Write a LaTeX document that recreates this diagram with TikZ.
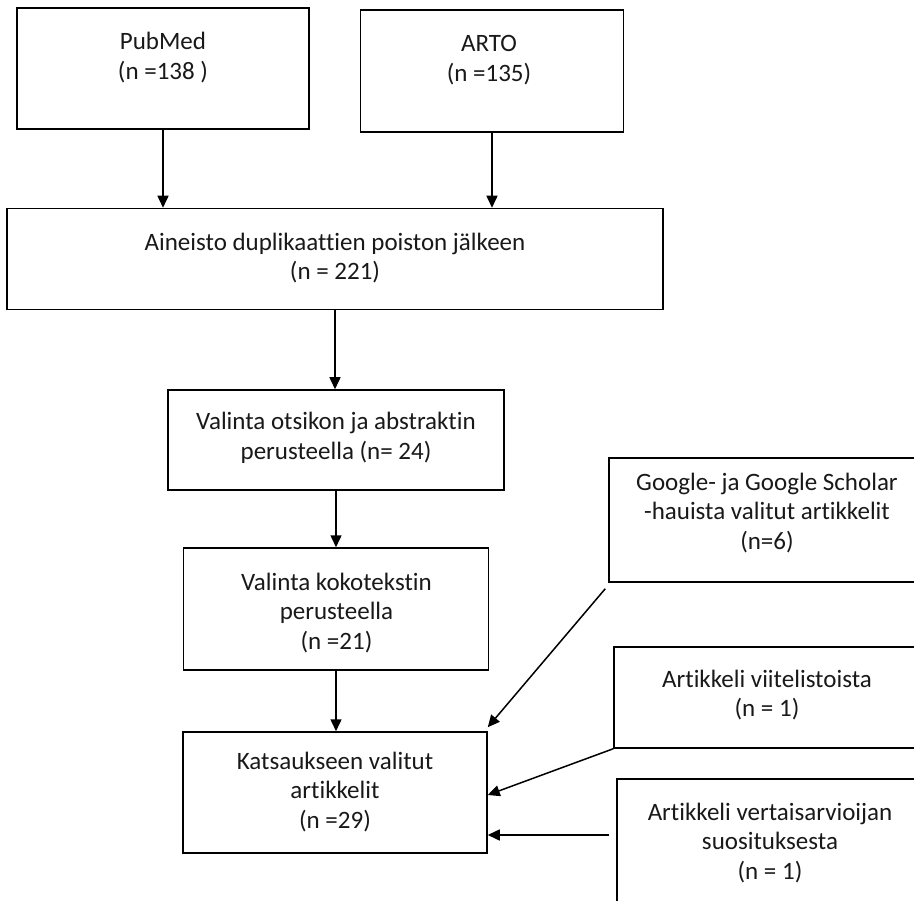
\documentclass[tikz,border=0pt]{standalone}
\usepackage{fontspec}
\setmainfont{Carlito}[Ligatures=NoCommon]
\usetikzlibrary{arrows.meta,calc}
\tikzset{
  box/.style={draw=black, line width=1.5pt, rectangle, inner sep=0pt},
  txt/.style={align=center, inner sep=0pt, font=\fontsize{25}{29.5}\selectfont, text=black!90},
  arr/.style={line width=1.5pt, -{Triangle[length=12pt,width=11pt]}}
}
\begin{document}
\begin{tikzpicture}[x=1pt,y=-1pt]
\clip (0,0) rectangle (914,901);
\fill[white] (0,0) rectangle (914,901);
% boxes
\node[box, minimum width=292, minimum height=121] (pub) at (163,68.5) {};
\node[txt] (pubt) at (163,57.5) {PubMed\\(n =138 )};
\node[box, minimum width=263, minimum height=122] (arto) at (492,71) {};
\node[txt] (artot) at (489,60) {ARTO\\(n =135)};
\node[box, minimum width=656, minimum height=101] (ain) at (335,259) {};
\node[txt] (aint) at (335,258) {Aineisto duplikaattien poiston jälkeen\\(n = 221)};
\node[box, minimum width=336, minimum height=100] (ots) at (336,440) {};
\node[txt] (otst) at (336,438) {Valinta otsikon ja abstraktin\\perusteella (n= 24)};
\node[box, minimum width=305, minimum height=122] (kok) at (336,609) {};
\node[txt] (kokt) at (336.5,613) {Valinta kokotekstin\\perusteella\\(n =21)};
\node[box, minimum width=304, minimum height=121] (kat) at (335,792.5) {};
\node[txt] (katt) at (335,792) {Katsaukseen valitut\\artikkelit\\(n =29)};
\node[box, minimum width=316, minimum height=124] (goo) at (767,520) {};
\node[txt] (goot) at (767,513) {Google- ja Google Scholar\\-hauista valitut artikkelit\\(n=6)};
\node[box, minimum width=306, minimum height=101] (vii) at (767,697.5) {};
\node[txt] (viit) at (767,695) {Artikkeli viitelistoista\\(n = 1)};
\node[box, minimum width=306, minimum height=140] (ver) at (770,849) {};
\node[txt] (vert) at (770,843) {Artikkeli vertaisarvioijan\\suosituksesta\\(n = 1)};
% connectors
\draw[arr] (pub.south) -- (pub.south |- ain.north);
\draw[arr] (arto.south) -- (arto.south |- ain.north);
\draw[arr] (ain.south) -- (ain.south |- ots.north);
\draw[arr] (ots.south) -- (ots.south |- kok.north);
\draw[arr] (kok.south) -- (kok.south |- kat.north);
\coordinate (gooout) at ($(goo.south west)+(-3,6)$);
\draw[arr] (gooout) -- ($(kat.north east)+(0,-4)$);
\draw[arr] (vii.south west) -- ($(kat.east)+(0,2.5)$);
\coordinate (verout) at ($(ver.west)+(-7,-14)$);
\draw[arr] (verout) -- (kat.east |- verout);
\end{tikzpicture}
\end{document}
